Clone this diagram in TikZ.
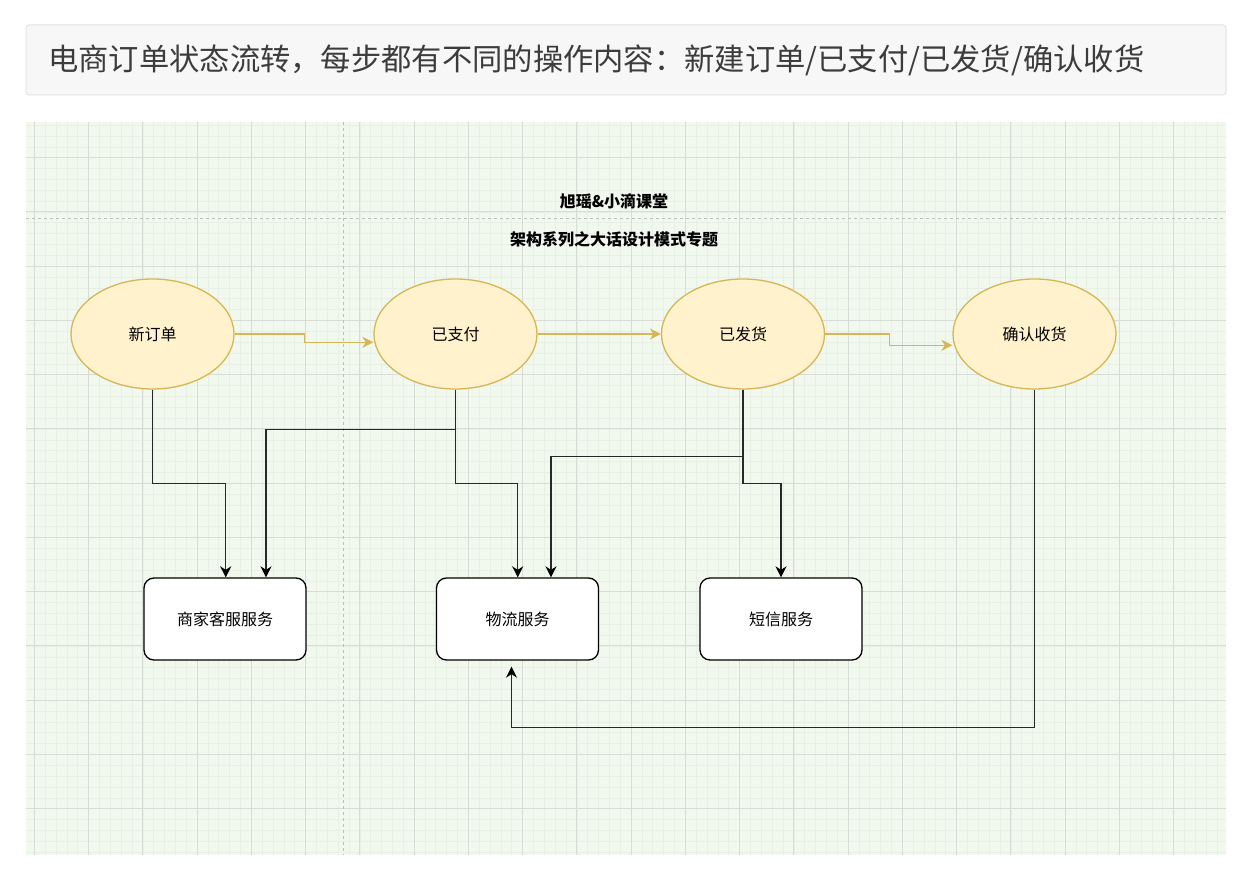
\documentclass[tikz,border=0pt]{standalone}
\usepackage{fontspec}
\newfontfamily\cjk{Noto Sans CJK SC}
\usetikzlibrary{shapes.geometric,arrows.meta}
\definecolor{gridbg}{RGB}{241,248,237}
\definecolor{minorc}{RGB}{232,239,229}
\definecolor{majorc}{RGB}{215,220,213}
\definecolor{guidec}{RGB}{190,190,190}
\definecolor{hdrbg}{RGB}{247,247,247}
\definecolor{hdrline}{RGB}{228,228,228}
\definecolor{hdrtext}{RGB}{60,60,60}
\definecolor{statefill}{RGB}{255,242,204}
\definecolor{statedraw}{RGB}{214,182,86}
\definecolor{connc}{RGB}{40,40,40}
\tikzset{
  minorgrid/.style={draw=minorc, line width=0.6pt},
  majorgrid/.style={draw=majorc, line width=1pt},
  guide/.style={draw=guidec, line width=1pt, dash pattern=on 3pt off 3pt},
  state/.style={ellipse, draw=statedraw, fill=statefill, line width=1.3pt,
    minimum width=163pt, minimum height=110pt, inner sep=0pt,
    font=\cjk\fontsize{16}{19}\selectfont},
  svc/.style={rectangle, rounded corners=10pt, draw=black, fill=white, line width=1.3pt,
    minimum width=162pt, minimum height=82pt, inner sep=0pt,
    font=\cjk\fontsize{16}{19}\selectfont},
  flow/.style={draw=statedraw, line width=1.4pt,
    -{Stealth[length=11pt,width=11pt,inset=3.5pt]}},
  conn/.style={draw=connc, line width=1.5pt,
    -{Stealth[length=11pt,width=11pt,inset=3.5pt,color=black]}},
  titletext/.style={font=\cjk\bfseries\fontsize{16}{19}\selectfont, inner sep=0pt}
}
\begin{document}
\begin{tikzpicture}[x=1pt,y=-1pt]
\useasboundingbox (0,0) rectangle (1237,882);
\fill[white] (0,0) rectangle (1237,882);
% header
\draw[fill=hdrbg, draw=hdrline, line width=1pt, rounded corners=3pt] (26,25) rectangle (1226,95);
\node[anchor=west, font=\cjk\fontsize{30.3}{36}\selectfont, text=hdrtext, inner sep=0pt] (hdr) at (48,60)
  {电商订单状态流转，每步都有不同的操作内容：新建订单/已支付/已发货/确认收货};
% grid
\fill[gridbg] (26,122) rectangle (1226,855);
\foreach \i in {0,...,109} \draw[minorgrid] ({34.3+\i*10.85},122) -- ({34.3+\i*10.85},855);
\foreach \i in {0,...,67} \draw[minorgrid] (26,{125.15+\i*10.85}) -- (1226,{125.15+\i*10.85});
\foreach \i in {0,...,21} \draw[majorgrid] ({34.3+\i*54.25},122) -- ({34.3+\i*54.25},855);
\foreach \i in {0,...,12} \draw[majorgrid] (26,{157.7+\i*54.25}) -- (1226,{157.7+\i*54.25});
\draw[guide] (343,122) -- (343,855);
\draw[guide] (26,218.3) -- (1226,218.3);
% titles
\node[titletext] (t1) at (614,201) {旭瑶\&小滴课堂};
\node[titletext] (t2) at (614,239) {架构系列之大话设计模式专题};
% states
\node[state] (n1) at (152.5,334) {新订单};
\node[state] (n2) at (455.5,334) {已支付};
\node[state] (n3) at (743,334) {已发货};
\node[state] (n4) at (1034.5,334) {确认收货};
% services
\node[svc] (b1) at (225,619) {商家客服服务};
\node[svc] (b2) at (517.5,619) {物流服务};
\node[svc] (b3) at (781,619) {短信服务};
% state flow
\draw[flow] (n1.east) -- (304.3,334) -- (304.3,342.3) -- (n2.west |- 0,342.3);
\draw[flow] (n2.east) -- (n3.west);
\draw[flow] (n3.east) -- (889.3,334) -- (889.3,345.3) -- (n4.west |- 0,345.3);
% service connectors
\draw[conn] (n1.south) |- (225.7,483.7) -- (b1.north -| 225.7,0);
\draw[conn] (n2.south) |- (266,429.3) -- (b1.north -| 266,0);
\draw[conn] (n2.south) |- (517.7,483.7) -- (b2.north -| 517.7,0);
\draw[conn] (n3.south) |- (551,456.7) -- (b2.north -| 551,0);
\draw[conn] (n3.south) |- (781,483.7) -- (b3.north);
\draw[conn, shorten >=6pt] (n4.south) |- (511.5,727.5) -- (b2.south -| 511.5,0);
\end{tikzpicture}
\end{document}
